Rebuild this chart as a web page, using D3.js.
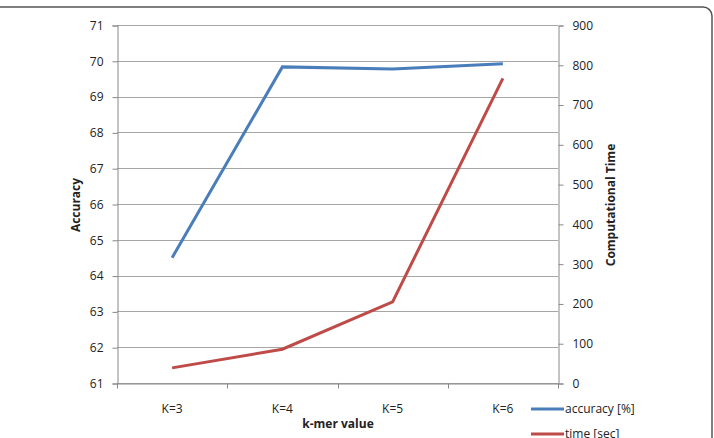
<!DOCTYPE html>
<html>
<head>
<meta charset="utf-8">
<script src="https://cdn.jsdelivr.net/npm/d3@7"></script>
<style>
  body { margin: 0; background: #fff; }
  svg text { font-family: "Open Sans", "Liberation Sans", sans-serif; fill: #222; }
</style>
</head>
<body>
<div class="chart"></div>
<script>
var categories = ["K=3", "K=4", "K=5", "K=6"];
var accuracy = [64.5, 69.83, 69.77, 69.92];
var time = [38, 85, 204, 766];
var accTicks = [61, 62, 63, 64, 65, 66, 67, 68, 69, 70, 71];
var timeTicks = [0, 100, 200, 300, 400, 500, 600, 700, 800, 900];
var seriesNames = ["accuracy [%]", "time [sec]"];

var width = 714,
	height = 438;
var plotL = 117, plotR = 558, plotT = 25, plotB = 383;

var svg = d3.select(".chart").append("svg")
	.attr("width", width)
	.attr("height", height);

// outer frame
svg.append("rect")
	.attr("x", -10).attr("y", 7)
	.attr("width", width + 8).attr("height", height + 20)
	.attr("rx", 9)
	.attr("fill", "none")
	.attr("stroke", "#555")
	.attr("stroke-width", 1.5);

var x = d3.scaleBand().domain(categories).range([plotL, plotR]);
var yAcc = d3.scaleLinear().domain([61, 71]).range([plotB, plotT]);
var yTime = d3.scaleLinear().domain([0, 900]).range([plotB, plotT]);

// gridlines
svg.append("g").selectAll("line")
	.data(accTicks)
	.enter().append("line")
	.attr("x1", plotL).attr("x2", plotR)
	.attr("y1", function(d) { return Math.round(yAcc(d)) + 0.5; })
	.attr("y2", function(d) { return Math.round(yAcc(d)) + 0.5; })
	.attr("stroke", "#a6a6a6")
	.attr("stroke-width", 1);

// left axis
var gl = svg.append("g")
	.attr("transform", "translate(" + (plotL + 0.5) + ",0.5)")
	.call(d3.axisLeft(yAcc).tickValues(accTicks).tickSize(5).tickPadding(9).tickFormat(d3.format("d")));
// right axis
var gr = svg.append("g")
	.attr("transform", "translate(" + (plotR + 0.5) + ",0.5)")
	.call(d3.axisRight(yTime).tickValues(timeTicks).tickSize(5).tickPadding(9).tickFormat(d3.format("d")));
// bottom axis
var gb = svg.append("g")
	.attr("transform", "translate(0," + (plotB + 0.5) + ")")
	.call(d3.axisBottom(x).tickSize(0).tickPadding(21));
gb.selectAll(".tick").select("line").remove();
gb.selectAll(".catTick")
	.data(categories.concat(["end"]))
	.enter().append("line")
	.attr("x1", function(d, i) { return Math.round(plotL + i * x.bandwidth()) + 0.5; })
	.attr("x2", function(d, i) { return Math.round(plotL + i * x.bandwidth()) + 0.5; })
	.attr("y1", 0).attr("y2", 5)
	.attr("stroke", "#888");

[gl, gr, gb].forEach(function(g) {
	g.select(".domain").attr("stroke", "#888");
	g.selectAll(".tick line").attr("stroke", "#888");
	g.selectAll("text").style("font-size", "12px").attr("fill", "#222");
	g.attr("font-family", null);
});

// lines
var lineAcc = d3.line()
	.x(function(d, i) { return x(categories[i]) + x.bandwidth() / 2; })
	.y(function(d) { return yAcc(d); });
var lineTime = d3.line()
	.x(function(d, i) { return x(categories[i]) + x.bandwidth() / 2; })
	.y(function(d) { return yTime(d); });

svg.append("path").datum(accuracy)
	.attr("d", lineAcc)
	.attr("fill", "none")
	.attr("stroke", "#4a7ebb")
	.attr("stroke-width", 3);
svg.append("path").datum(time)
	.attr("d", lineTime)
	.attr("fill", "none")
	.attr("stroke", "#be4b48")
	.attr("stroke-width", 3);

// axis titles
svg.append("text")
	.attr("transform", "translate(80,205) rotate(-90)")
	.attr("text-anchor", "middle")
	.style("font-size", "12px").style("font-weight", "bold")
	.text("Accuracy");
svg.append("text")
	.attr("transform", "translate(615,205) rotate(-90)")
	.attr("text-anchor", "middle")
	.style("font-size", "12px").style("font-weight", "bold")
	.text("Computational Time");
svg.append("text")
	.attr("x", 338).attr("y", 428)
	.attr("text-anchor", "middle")
	.style("font-size", "12px").style("font-weight", "bold")
	.text("k-mer value");

// legend
var colors = ["#4a7ebb", "#be4b48"];
var legend = svg.append("g").selectAll("g")
	.data(seriesNames)
	.enter().append("g")
	.attr("transform", function(d, i) { return "translate(531," + (409 + i * 25) + ")"; });
legend.append("line")
	.attr("x1", 0).attr("x2", 33)
	.attr("stroke", function(d, i) { return colors[i]; })
	.attr("stroke-width", 3);
legend.append("text")
	.attr("x", 34).attr("y", 4)
	.style("font-size", "12px")
	.text(function(d) { return d; });
</script>
</body>
</html>
